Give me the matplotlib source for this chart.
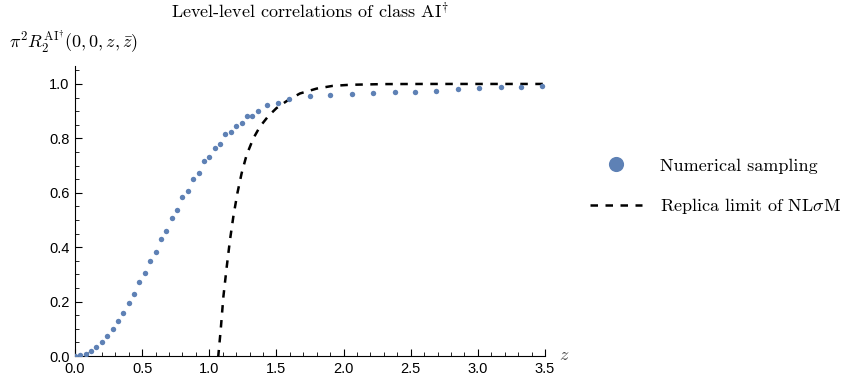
import matplotlib
matplotlib.use("Agg")
import matplotlib.pyplot as plt
from matplotlib.ticker import MultipleLocator

# ---- data ----
sample_x = [0.00, 0.04, 0.08, 0.12, 0.16, 0.20, 0.24, 0.28, 0.32, 0.36,
            0.40, 0.44, 0.48, 0.52, 0.56, 0.60, 0.64, 0.68, 0.72, 0.76,
            0.80, 0.84, 0.88, 0.92, 0.96, 1.00, 1.04, 1.08, 1.12, 1.16,
            1.20, 1.24, 1.28, 1.32, 1.36, 1.43, 1.51, 1.59, 1.75, 1.90,
            2.06, 2.22, 2.38, 2.53, 2.69, 2.85, 3.01, 3.17, 3.32, 3.48]
sample_y = [0.000, 0.004, 0.009, 0.020, 0.033, 0.051, 0.075, 0.099, 0.130, 0.159,
            0.196, 0.229, 0.272, 0.304, 0.349, 0.382, 0.430, 0.461, 0.506, 0.537,
            0.586, 0.608, 0.650, 0.673, 0.716, 0.730, 0.765, 0.779, 0.815, 0.822,
            0.847, 0.857, 0.884, 0.884, 0.901, 0.924, 0.931, 0.944, 0.956, 0.961,
            0.963, 0.966, 0.969, 0.972, 0.975, 0.980, 0.984, 0.987, 0.989, 0.991]

replica_x = [1.055, 1.067, 1.085, 1.105, 1.130, 1.154, 1.179, 1.209, 1.241, 1.278,
             1.328, 1.377, 1.440, 1.500, 1.576, 1.675, 1.800, 1.920, 2.050, 2.300,
             2.600, 3.000, 3.500]
replica_y = [-0.060, 0.000, 0.096, 0.218, 0.328, 0.426, 0.512, 0.598, 0.672, 0.739,
             0.800, 0.843, 0.882, 0.911, 0.937, 0.965, 0.983, 0.993, 0.997, 0.9995,
             1.000, 1.000, 1.000]

x_ticks = [0.0, 0.5, 1.0, 1.5, 2.0, 2.5, 3.0, 3.5]
y_ticks = [0.0, 0.2, 0.4, 0.6, 0.8, 1.0]

title_text = "Level-level correlations of class AI$^{\\dagger}$"
ylabel_text = r"$\pi^2 R_2^{\mathrm{AI}^{\dagger}}(0,0,z,\bar{z})$"
legend_labels = ["Numerical sampling", "Replica limit of NL$\\sigma$M"]

# ---- style ----
plt.rcParams['font.family'] = ['Liberation Sans', 'DejaVu Sans']
plt.rcParams['mathtext.fontset'] = 'cm'
blue = '#5E81B5'
serif = 'cmr10'
fs = 13

fig = plt.figure(figsize=(8.46, 3.80), dpi=100)
ax = fig.add_axes([75/846, 1-356/380, 470/846, (356-66)/380])

pts, = ax.plot(sample_x, sample_y, linestyle='none', marker='o', markersize=3.9,
               color=blue, markeredgewidth=0, label=legend_labels[0], zorder=3)
ln, = ax.plot(replica_x, replica_y, color='black', linewidth=1.8,
              linestyle=(0, (3.0, 3.0)), label=legend_labels[1], zorder=2)

ax.set_xlim(0, 3.5)
ax.set_ylim(0, 1.066)
ax.set_xticks(x_ticks)
ax.set_yticks(y_ticks)
ax.set_xticklabels([f"{v:.1f}" for v in x_ticks])
ax.set_yticklabels([f"{v:.1f}" for v in y_ticks])
ax.xaxis.set_minor_locator(MultipleLocator(0.1))
ax.yaxis.set_minor_locator(MultipleLocator(0.05))
ax.tick_params(which='major', direction='in', length=5, width=0.8, labelsize=10.5,
               colors='black', pad=4)
ax.tick_params(which='minor', direction='in', length=2.8, width=0.6)
for s in ['top', 'right']:
    ax.spines[s].set_visible(False)
for s in ['left', 'bottom']:
    ax.spines[s].set_linewidth(0.8)

fig.text(310/846, 1-18/380, title_text, ha='center', va='baseline',
         fontsize=fs, family=serif)
fig.text(9/846, 1-48/380, ylabel_text, ha='left', va='baseline', fontsize=fs)
fig.text(559/846, 1-360/380, "$z$", ha='left', va='baseline', fontsize=fs, color='#444444')

leg = ax.legend(handles=[pts, ln], loc='center left',
                bbox_to_anchor=(590/846, 1-187/380), bbox_transform=fig.transFigure,
                frameon=False, markerscale=2.8, handlelength=2.9, handletextpad=1.0,
                labelspacing=1.25, borderpad=0, borderaxespad=0,
                prop={'family': serif, 'size': fs})

fig.savefig("out.png", dpi=100)
